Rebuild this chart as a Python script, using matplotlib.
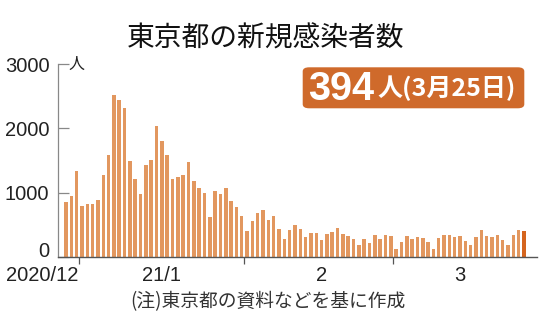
import numpy as np
import pandas as pd
import matplotlib
matplotlib.use('Agg')
import matplotlib.pyplot as plt
from matplotlib.patches import FancyBboxPatch
from matplotlib import transforms

# daily new cases, 2020/12/29 .. 2021/3/25
dates = pd.date_range('2020-12-29', '2021-03-25')
cases_dec = [856, 944, 1337]
cases_jan = [783, 814, 816, 884, 1278, 1591, 2520, 2447, 2320, 1494, 1219, 970,
             1433, 1502, 2044, 1809, 1592, 1204, 1240, 1274, 1471, 1175, 1070,
             986, 618, 1026, 973, 1064, 868, 769, 633]
cases_feb = [393, 556, 676, 734, 577, 639, 429, 276, 412, 491, 434, 307, 369, 371,
             266, 350, 378, 445, 353, 327, 272, 178, 275, 213, 340, 270, 337, 329]
cases_mar = [121, 232, 316, 279, 301, 293, 237, 116, 290, 340, 335, 304, 330, 239,
             175, 300, 409, 323, 303, 342, 256, 187, 337, 420, 394]
cases = cases_dec + cases_jan + cases_feb + cases_mar

month_labels = ['2020/12', '21/1', '2', '3']
y_ticks = [0, 1000, 2000, 3000]

title = '東京都の新規感染者数'
note = '(注)東京都の資料などを基に作成'
latest = '394'
latest_sub = '人(3月25日)'

BAR = '#E2975F'
LAST = '#D5651F'
BOX = '#CF6A2B'
NUMFONT = ['Liberation Sans', 'DejaVu Sans']
JPFONT = ['Noto Sans CJK JP', 'DejaVu Sans']

W, H = 542, 336
fig = plt.figure(figsize=(W / 100, H / 100), dpi=100)
ax = fig.add_axes([57.7 / W, (H - 256.7) / H, (536.7 - 57.7) / W, (256.7 - 64.3) / H])

x = np.arange(len(cases))
colors = [BAR] * (len(cases) - 1) + [LAST]
ax.bar(x, cases, width=0.66, color=colors, linewidth=0)

ax.set_xlim(-1.56, 88.4)
ax.set_ylim(0, 3000)

for s in ['top', 'right']:
    ax.spines[s].set_visible(False)
ax.spines['left'].set_color('#888888')
ax.spines['left'].set_linewidth(0.9)
ax.spines['bottom'].set_color('#555555')
ax.spines['bottom'].set_linewidth(1.0)

ax.set_yticks(y_ticks)
ax.set_yticklabels([str(v) for v in y_ticks], family=NUMFONT, fontsize=14.5,
                   weight='normal', color='#222222')
ax.tick_params(axis='y', direction='in', length=8, width=0.9, color='#888888', pad=6)
# "0" sits a little above the baseline
lab0 = ax.get_yticklabels()[0]
lab0.set_transform(lab0.get_transform() + transforms.ScaledTranslation(0, 5 / 72, fig.dpi_scale_trans))

# month boundaries
starts = [i for i in range(1, len(dates)) if dates[i].month != dates[i - 1].month]
ax.set_xticks([i - 0.5 for i in starts])
ax.set_xticklabels([])
ax.tick_params(axis='x', direction='out', length=5, width=0.9, color='#555555')

# month labels
lab_x = [starts[0] - 0.7, 18, 48, 74]
lab_ha = ['right', 'center', 'center', 'center']
for lx, t, ha in zip(lab_x, month_labels, lab_ha):
    ax.text(lx, -0.097, t, transform=ax.get_xaxis_transform(), ha=ha, va='center',
            family=NUMFONT, fontsize=14.5, weight='normal', color='#222222')

ax.text(0.4, 3000, '人', ha='left', va='center', family=JPFONT, fontsize=11.5, color='#222222')

fig.text(266 / W, 1 - 39 / H, title, ha='center', va='center', family=JPFONT,
         fontsize=20, color='#111111')
fig.text(268 / W, 1 - 302 / H, note, ha='center', va='center', family=JPFONT,
         fontsize=13.5, color='#333333')

box = FancyBboxPatch((302.7 / W, 1 - 108.3 / H), (524.3 - 302.7) / W, (108.3 - 67.3) / H,
                     boxstyle='round,pad=0,rounding_size=0.012', transform=fig.transFigure,
                     facecolor=BOX, edgecolor='none')
fig.patches.append(box)
fig.text(308 / W, 1 - 100.5 / H, latest, ha='left', va='baseline', family=['Liberation Sans', 'DejaVu Sans'],
         fontsize=28.5, weight='bold', color='white')
fig.text(377 / W, 1 - 88 / H, latest_sub, ha='left', va='center', family=JPFONT,
         fontsize=18, weight='bold', color='white')

fig.savefig('out.png', dpi=100)
